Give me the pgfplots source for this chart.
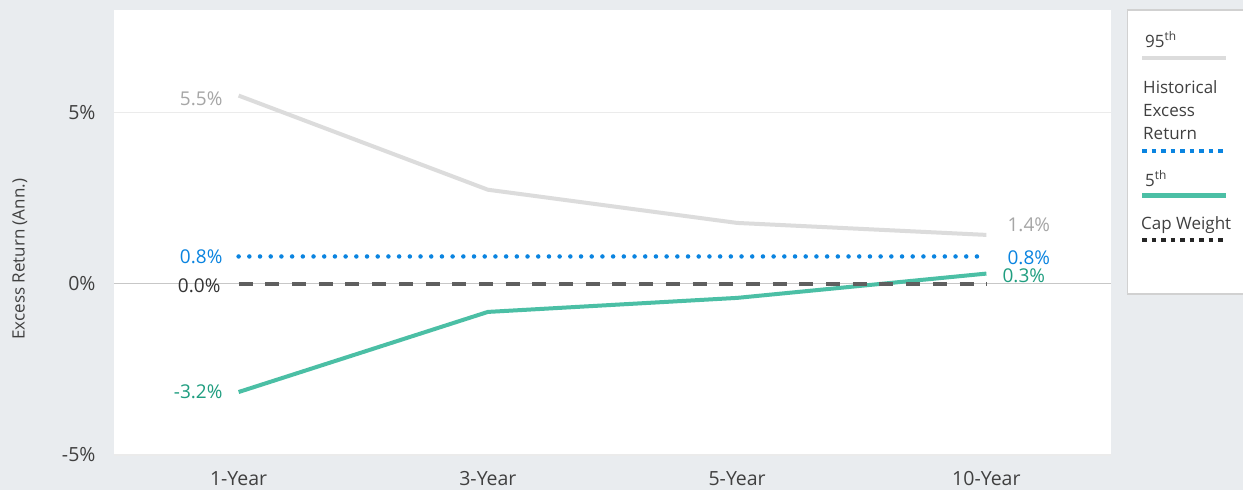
\documentclass[border=0pt]{standalone}
\usepackage{fontspec}
\setmainfont{Open Sans}
\usepackage{pgfplots}
\pgfplotsset{compat=1.18}

\definecolor{bg}{HTML}{E9ECEF}
\definecolor{pct95}{HTML}{DCDCDC}
\definecolor{lab95}{HTML}{A6A6A6}
\definecolor{histblue}{HTML}{0A84E0}
\definecolor{tealline}{HTML}{4BBFA5}
\definecolor{teallab}{HTML}{1F9E80}
\definecolor{capgray}{HTML}{5F5F5F}
\definecolor{txt}{HTML}{404040}

\begin{document}
\begin{tikzpicture}[x=1pt,y=-1pt]
\path[use as bounding box, fill=bg] (0,0) rectangle (1243,490);

\begin{axis}[
  at={(114pt,-455pt)}, anchor=south west,
  scale only axis, width=997pt, height=445pt,
  xmin=-0.5, xmax=3.5, ymin=-5, ymax=8,
  axis background/.style={fill=white},
  axis line style={draw=none},
  tick style={draw=none},
  xtick={0,1,2,3},
  xticklabels={1-Year,3-Year,5-Year,10-Year},
  ytick={-5,5}, yticklabels={-5\%,5\%},
  extra y ticks={0}, extra y tick labels={0\%},
  extra y tick style={grid style={color=black!22, line width=1.2pt}},
  ymajorgrids,
  grid style={color=black!8, line width=1.2pt},
  ticklabel style={font=\fontsize{19.5}{22}\selectfont, text=txt},
  yticklabel style={xshift=-15pt},
  xticklabel style={yshift=-13pt},
  /pgf/number format/assume math mode=true,
  ylabel={Excess Return (Ann.)},
  ylabel style={at={(axis description cs:-0.0943,0.44)}, anchor=center,
    font=\fontsize{17}{20}\selectfont, text=txt},
  clip=false,
]
\addplot[draw=pct95, line width=4pt] coordinates {(0,5.5) (1,2.75) (2,1.78) (3,1.43)};
\addplot[draw=histblue, line width=4.5pt, line cap=round, dash pattern=on 0pt off 10.7pt]
  coordinates {(0,0.8) (1,0.8) (2,0.8) (3,0.8)};
\addplot[draw=tealline, line width=4pt] coordinates {(0,-3.16) (1,-0.82) (2,-0.41) (3,0.3)};
\addplot[draw=capgray, line width=4.5pt, dash pattern=on 14pt off 12.7pt]
  coordinates {(0,0) (1,0) (2,0) (3,0)};

\begin{scope}[every node/.style={font=\fontsize{19}{22}\selectfont, inner sep=0pt}]
\node[anchor=east, text=lab95] at ([xshift=-16pt,yshift=-3pt]axis cs:0,5.5) {5.5\%};
\node[anchor=east, text=histblue] at ([xshift=-16pt]axis cs:0,0.8) {0.8\%};
\node[anchor=east, text=black!80] at ([xshift=-18pt,yshift=-2pt]axis cs:0,0) {0.0\%};
\node[anchor=east, text=teallab] at ([xshift=-16pt]axis cs:0,-3.16) {-3.2\%};
\node[anchor=west, text=lab95] at ([xshift=21pt,yshift=10pt]axis cs:3,1.43) {1.4\%};
\node[anchor=west, text=histblue] at ([xshift=21pt,yshift=-1pt]axis cs:3,0.8) {0.8\%};
\node[anchor=west, text=teallab] at ([xshift=16pt,yshift=-2pt]axis cs:3,0.3) {0.3\%};
\end{scope}
\end{axis}

% legend
\draw[fill=white, draw=black!18, line width=1.2pt] (1127.5,10) rectangle (1260,294);
\begin{scope}[every node/.style={font=\fontsize{17}{20}\selectfont, text=txt, inner sep=0pt, anchor=base west}]
\node at (1145,47) {95\textsuperscript{th}};
\node at (1143,93) {Historical};
\node at (1143,116) {Excess};
\node at (1143,139) {Return};
\node at (1145,186) {5\textsuperscript{th}};
\node at (1141,229) {Cap Weight};
\end{scope}
\draw[pct95, line width=4pt] (1142,58) -- (1226,58);
\draw[histblue, line width=4.5pt, dash pattern=on 4.5pt off 5pt] (1142,151) -- (1226,151);
\draw[tealline, line width=5pt] (1142,195) -- (1226,195);
\draw[black!85, line width=4.5pt, dash pattern=on 4.5pt off 5pt] (1142,240) -- (1226,240);
\end{tikzpicture}
\end{document}
